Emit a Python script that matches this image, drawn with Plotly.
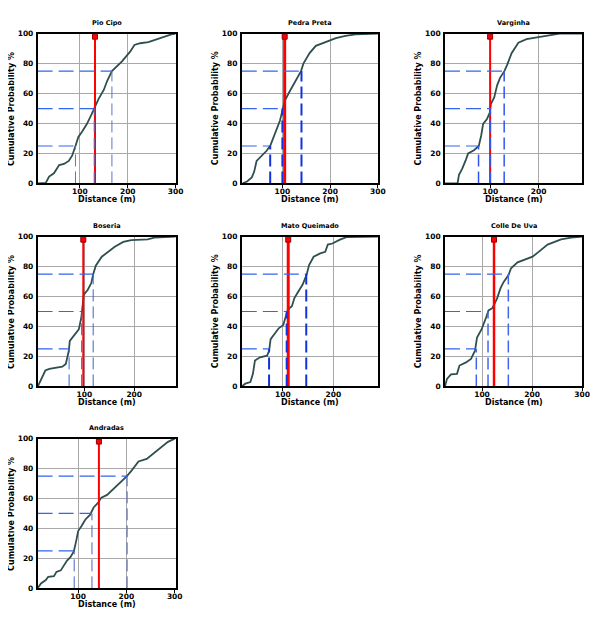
import plotly.graph_objects as go

# site names, in panel order
sites = ["Pio Cipo", "Pedra Preta", "Varginha", "Boseria",
         "Mato Queimado", "Colle De Uva", "Andradas"]

# cumulative curves: distance (m) and cumulative %
pio_x = [12, 29, 36, 46, 57, 67, 77, 84, 91, 97, 105, 115, 125, 130, 139, 150,
         157, 167, 177, 188, 198, 205, 214, 226, 243, 257, 274, 291, 300]
pio_y = [0, 0.4, 4.6, 6.8, 12.3, 13, 15, 18.5, 25, 31, 34.7, 39.8, 46.4, 49.7,
         56.3, 62.4, 68.4, 75, 77.8, 81.5, 85.3, 88, 92.5, 93.6, 94.3, 95.8,
         98, 99.6, 100]

pedra_x = [17, 26, 36, 41, 46, 57, 67, 75, 82, 88, 95, 100, 105, 114, 126, 139,
           144, 157, 170, 184, 198, 212, 232, 253, 300]
pedra_y = [0, 1.3, 4, 7.9, 15, 18.5, 21.8, 25.5, 31, 36.5, 42, 48.6, 55.2, 60.7,
           67.3, 75, 80, 87, 91.9, 93.6, 95.4, 97, 98.5, 99.6, 100]

varg_x = [6, 32, 35, 42, 49, 54, 66, 76, 81, 85, 93, 99, 101, 108, 114, 120,
          129, 135, 144, 158, 175, 195, 216, 243, 290]
varg_y = [0, 0, 5.7, 10, 15.6, 20, 22.2, 25, 32, 39.8, 43, 47.5, 53, 57.4, 65.5,
          70.5, 75, 79.3, 87, 94, 96.3, 97.4, 99, 100, 100]

bos_x = [7, 13, 22, 30, 43, 56, 63, 69, 71, 79, 89, 94, 97, 99, 107, 114, 118,
         123, 135, 148, 161, 178, 194, 227, 240, 283]
bos_y = [0, 4, 10.6, 11.7, 12.3, 13.2, 15, 23.8, 30.4, 33.7, 38.1, 45.8, 54.6,
         61.2, 64.5, 69, 75, 80.6, 86.6, 89.9, 93.2, 96.5, 97.6, 98.2, 99.3, 100]

mato_x = [19, 26, 36, 41, 45, 55, 69, 73, 76, 84, 92, 101, 107, 110, 118, 123,
          129, 139, 147, 152, 161, 174, 184, 189, 198, 213, 226, 288]
mato_y = [0, 1.8, 2.9, 8.4, 17.2, 19.4, 20.5, 23.8, 31.5, 34.8, 38.8, 41, 48,
          51.3, 53.5, 59, 62.3, 67.8, 74.4, 81, 86.6, 88.8, 89.9, 94.7, 95.4,
          98, 99.6, 100]

colle_x = [26, 30, 38, 50, 55, 68, 78, 86, 90, 99, 108, 113, 121, 130, 137, 143,
           153, 158, 171, 188, 201, 215, 231, 258, 278, 300]
colle_y = [0, 5, 8, 8.4, 13.9, 16, 18.3, 23.8, 32.6, 38, 45.8, 50.7, 52.4, 58.6,
           65.6, 69.6, 74.4, 78.9, 82.8, 85, 86.6, 90.3, 94.7, 98.2, 99.3, 100]

andr_x = [16, 23, 33, 38, 50, 55, 64, 71, 77, 84, 91, 96, 100, 107, 115, 125,
          129, 132, 141, 148, 160, 173, 187, 201, 211, 225, 242, 259, 273, 286,
          300]
andr_y = [0, 3.3, 5.5, 7.7, 8.1, 11, 12, 15.3, 18.6, 20.8, 24.7, 31.7, 38.3,
          41.6, 46, 49.2, 51.4, 54, 57, 60.6, 62.4, 66.3, 70.7, 75, 78.8, 84.7,
          86.4, 90.8, 94, 97.8, 100]

curves_x = [pio_x, pedra_x, varg_x, bos_x, mato_x, colle_x, andr_x]
curves_y = [pio_y, pedra_y, varg_y, bos_y, mato_y, colle_y, andr_y]

# 25/50/75 % quartile distances and the mean distance (red line)
q_levels = [25, 50, 75]
quartiles = [[91, 130, 167], [74.5, 100, 140], [75.5, 100, 128.6],
             [69.6, 94.7, 117.8], [72.9, 107.7, 146.4], [88.6, 112, 152.6],
             [91.8, 128.6, 201.4]]
means = [131.7, 104.8, 99.5, 98, 110.8, 124, 143]
x_ranges = [[12, 300], [15, 300], [6, 290], [6.5, 283], [19, 288], [26, 300],
            [16, 302]]

# the page body has an 8px margin all round, so the figure is 16px smaller
PAD = 8
W, H = 605 - 2 * PAD, 624 - 2 * PAD
col_px = [[38, 178], [245, 383], [451, 590]]
row_px = [[30, 182], [236, 388], [441, 593]]
col_dom = [[(a - PAD) / W, (b - PAD) / W] for a, b in col_px]
row_dom = [[1 - (b - PAD) / H, 1 - (a - PAD) / H] for a, b in row_px]

vline_w = [1, 2, 1.5, 1, 2, 1.5, 1]
vline_c = ["#5577cc", "#1133dd", "#3355ee", "#3366dd", "#1133dd", "#4466ee", "#4466cc"]
red_w = [2, 3, 2, 2, 3, 2.5, 2]

FONT = "DejaVu Sans"
fig = go.Figure()

for i in range(7):
    n = i + 1
    xa = "x" if n == 1 else "x%d" % n
    ya = "y" if n == 1 else "y%d" % n
    lo = x_ranges[i][0]

    fig.add_trace(go.Scatter(x=curves_x[i], y=curves_y[i], mode="lines",
                             line=dict(color="#2f4f4f", width=1.8),
                             xaxis=xa, yaxis=ya, showlegend=False))
    m = means[i]
    fig.add_trace(go.Scatter(x=[m, m], y=[0, 98], mode="lines",
                             line=dict(color="#ff0000", width=red_w[i]),
                             xaxis=xa, yaxis=ya, showlegend=False))
    fig.add_trace(go.Scatter(x=[m], y=[98], mode="markers",
                             marker=dict(symbol="square", size=5, color="#ff0000",
                                         line=dict(color="#990000", width=1)),
                             xaxis=xa, yaxis=ya, showlegend=False))
    hx, hy, vx, vy = [], [], [], []
    for q, lev in zip(quartiles[i], q_levels):
        hx += [lo, q, None]
        hy += [lev, lev, None]
        vx += [q, q, None]
        vy += [0, lev, None]
    fig.add_trace(go.Scatter(x=hx, y=hy, mode="lines",
                             line=dict(color="#3366ee", width=1.2, dash="15px,6px"),
                             xaxis=xa, yaxis=ya, showlegend=False))
    fig.add_trace(go.Scatter(x=vx, y=vy, mode="lines",
                             line=dict(color=vline_c[i], width=vline_w[i],
                                       dash="12px,5px"),
                             xaxis=xa, yaxis=ya, showlegend=False))

    r, c = divmod(i, 3)
    axis_style = dict(showline=True, linecolor="black", linewidth=1.5, mirror=True,
                      showgrid=True, gridcolor="#a8a8a8", gridwidth=1,
                      zeroline=False, tickcolor="black",
                      tickfont=dict(family=FONT, size=7.5, color="black",
                                    weight="bold"))
    fig.layout["xaxis%d" % n] = dict(axis_style, domain=col_dom[c], anchor=ya,
                                     range=x_ranges[i], tickvals=[100, 200, 300],
                                     ticks="outside", ticklen=3,
                                     ticklabelstandoff=-3)
    fig.layout["yaxis%d" % n] = dict(axis_style, domain=row_dom[r], anchor=xa,
                                     range=[0, 100], tickvals=[0, 20, 40, 60, 80, 100],
                                     ticks="", ticklabelstandoff=1)

    xmid = (col_dom[c][0] + col_dom[c][1]) / 2
    ymid = (row_dom[r][0] + row_dom[r][1]) / 2
    fig.add_annotation(text=sites[i], xref="paper", yref="paper",
                       x=xmid, y=row_dom[r][1] + 11 / H, showarrow=False,
                       xanchor="center", yanchor="middle",
                       font=dict(family=FONT, size=6.5, color="black", weight="bold"))
    fig.add_annotation(text="Distance (m)", xref="paper", yref="paper",
                       x=xmid, y=row_dom[r][0] - 16 / H, showarrow=False,
                       xanchor="center", yanchor="middle",
                       font=dict(family=FONT, size=8, color="black", weight="bold"))
    fig.add_annotation(text="Cumulative Probability %", xref="paper", yref="paper",
                       x=col_dom[c][0] - 26.5 / W, y=ymid, textangle=-90,
                       showarrow=False, xanchor="center", yanchor="middle",
                       font=dict(family=FONT, size=8, color="black", weight="bold"))

fig.update_layout(width=W, height=H, margin=dict(l=0, r=0, t=0, b=0),
                  paper_bgcolor="white", plot_bgcolor="white", showlegend=False)

fig.write_html("out.html", config={"displayModeBar": False})
